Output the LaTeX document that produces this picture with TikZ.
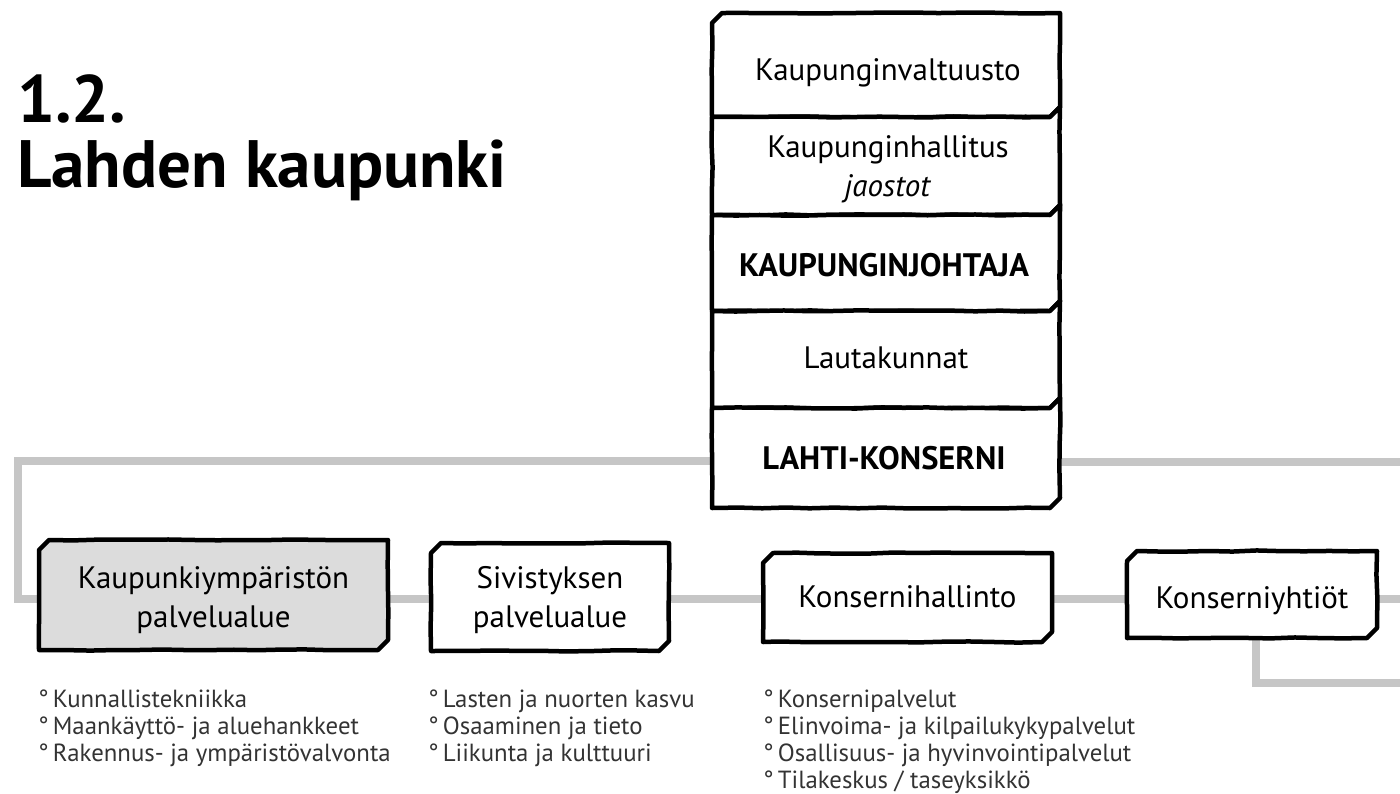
\documentclass[tikz,border=0pt]{standalone}
\usepackage{fontspec}
\setmainfont{PT Sans}
\usetikzlibrary{decorations.pathmorphing}
\definecolor{busgray}{HTML}{C6C6C6}
\definecolor{boxgray}{HTML}{DCDCDC}
\definecolor{bulletcol}{HTML}{333333}
\newcommand\chamf{10pt}
\newcommand\OutlineCC[2]{\draw[boxline,fill=#2] ([yshift=-\chamf]#1.north west) -- ([xshift=\chamf]#1.north west) -- (#1.north east) -- ([yshift=\chamf]#1.south east) -- ([xshift=-\chamf]#1.south east) -- (#1.south west) -- cycle;}
\newcommand\OutlineST[1]{\draw[boxline,fill=white] (#1.north west) -- ([xshift=-\chamf]#1.north east) -- ([yshift=\chamf]#1.north east) -- ([yshift=\chamf]#1.south east) -- ([xshift=-\chamf]#1.south east) -- (#1.south west) -- cycle;}
\begin{document}
\begin{tikzpicture}[x=1pt,y=-1pt,
  boxn/.style={rectangle,inner sep=0pt,outer sep=0pt,draw=none},
  boxline/.style={draw=black,line width=4.5pt,line join=round,line cap=round,
    decoration={random steps,segment length=24pt,amplitude=0.6pt},decorate},
  bus/.style={draw=busgray,line width=7.5pt},
  lbl/.style={inner sep=0pt,font=\fontsize{31pt}{39pt}\selectfont},
  bld/.style={inner sep=0pt,font=\fontsize{32.5pt}{39pt}\selectfont\bfseries},
  blt/.style={inner sep=0pt,text=bulletcol,font=\fontsize{24.8pt}{27pt}\selectfont},
]
\pgfmathsetseed{11}
\useasboundingbox (0,0) rectangle (1400,793);

% box nodes (shapes only)
\node[boxn,minimum width=348pt,minimum height=104pt] (kv) at (886,65) {};
\node[boxn,minimum width=348pt,minimum height=98pt] (kh) at (886,166) {};
\node[boxn,minimum width=348pt,minimum height=96pt] (kj) at (886,263) {};
\node[boxn,minimum width=348pt,minimum height=97pt] (lt) at (886,359.5) {};
\node[boxn,minimum width=348pt,minimum height=100pt] (lk) at (886,458) {};

\node[boxn,minimum width=349pt,minimum height=110pt] (kyp) at (213.5,595) {};
\node[boxn,minimum width=238pt,minimum height=108pt] (siv) at (550,597) {};
\node[boxn,minimum width=289pt,minimum height=89pt] (khl) at (907.5,597.5) {};
\node[boxn,minimum width=250pt,minimum height=87pt] (ky) at (1252,594.5) {};

% bus lines
\coordinate (busL1) at (18,461);
\coordinate (busL2) at (18,599);
\coordinate (busR1) at (1400,462);
\coordinate (busR2) at (1400,599);
\coordinate (busD) at (1256,683);
\coordinate (busR3) at (1400,683);
\draw[bus] (lk.west |- busL1) -- (busL1) -- (busL2) -- (busR2);
\draw[bus] (lk.east |- busR1) -- (busR1);
\draw[bus] (ky.south -| busD) -- (busD) -- (busR3);

% outlines
\OutlineCC{kv}{white}
\OutlineST{kh}
\OutlineST{kj}
\OutlineST{lt}
\OutlineST{lk}
\OutlineCC{kyp}{boxgray}
\OutlineCC{siv}{white}
\OutlineCC{khl}{white}
\OutlineCC{ky}{white}

% title
\node[anchor=base west,inner sep=0pt,font=\fontsize{67pt}{59pt}\selectfont\bfseries] (title) at (17,122)
  {\begin{tabular}[t]{@{}l@{}}1.2.\\Lahden kaupunki\end{tabular}};

% labels
\node[lbl,anchor=base] (t-kv) at (888,80) {Kaupunginvaltuusto};
\node[lbl,anchor=base] (t-kh) at (888,157) {\begin{tabular}[t]{@{}c@{}}Kaupunginhallitus\\\textit{jaostot}\end{tabular}};
\node[bld,anchor=base] (t-kj) at (884,276) {KAUPUNGINJOHTAJA};
\node[lbl,anchor=base] (t-lt) at (886,368) {Lautakunnat};
\node[bld,anchor=base] (t-lk) at (884,469) {LAHTI-KONSERNI};

\node[lbl,anchor=base] (t-kyp) at (213.5,588) {\begin{tabular}[t]{@{}c@{}}Kaupunkiympäristön\\palvelualue\end{tabular}};
\node[lbl,anchor=base] (t-siv) at (550,588) {\begin{tabular}[t]{@{}c@{}}Sivistyksen\\palvelualue\end{tabular}};
\node[lbl,anchor=base] (t-khl) at (907.5,607) {Konsernihallinto};
\node[lbl,anchor=base] (t-ky) at (1252,608) {Konserniyhtiöt};

% bullet lists
\node[blt,anchor=base west] (l-kyp) at (38,707) {\begin{tabular}[t]{@{}l@{}}°\,Kunnallistekniikka\\°\,Maankäyttö- ja aluehankkeet\\°\,Rakennus- ja ympäristövalvonta\end{tabular}};
\node[blt,anchor=base west] (l-siv) at (428,707) {\begin{tabular}[t]{@{}l@{}}°\,Lasten ja nuorten kasvu\\°\,Osaaminen ja tieto\\°\,Liikunta ja kulttuuri\end{tabular}};
\node[blt,anchor=base west] (l-khl) at (763,707) {\begin{tabular}[t]{@{}l@{}}°\,Konsernipalvelut\\°\,Elinvoima- ja kilpailukykypalvelut\\°\,Osallisuus- ja hyvinvointipalvelut\\°\,Tilakeskus / taseyksikkö\end{tabular}};
\end{tikzpicture}
\end{document}
